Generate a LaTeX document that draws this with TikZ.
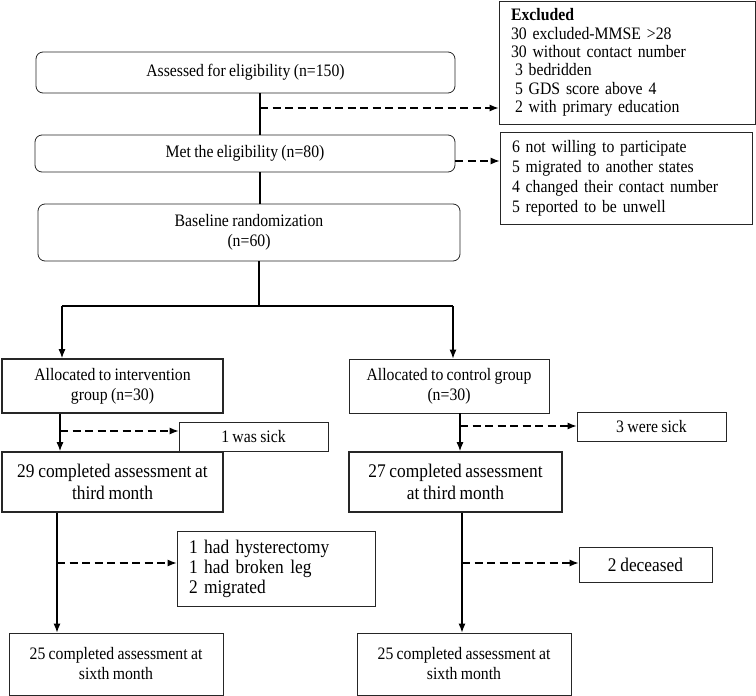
\documentclass[tikz,border=0pt]{standalone}
\usepackage{fontspec}
\setmainfont{Liberation Serif}[FakeStretch=0.9,WordSpace=0.85]
\usetikzlibrary{arrows.meta,positioning}

\begin{document}
\begin{tikzpicture}[x=1pt,y=-1pt,
	box/.style={draw=black!85, line width=0.8pt, align=center, inner sep=0pt, font=\fontsize{17.5}{20}\selectfont},
	rbox/.style={box, rounded corners=7pt},
	heavybox/.style={box, line width=1.7pt},
	bigtext/.style={font=\fontsize{19.3}{22}\selectfont},
	note/.style={box, align=left, inner xsep=12pt},
	flow/.style={line width=1.1pt, -{Latex[length=9pt,width=7pt]}},
	skip/.style={flow, dash pattern=on 8pt off 4.5pt}
	]

	\useasboundingbox (0,0) rectangle (756,696);

	\node[rbox, minimum width=419pt, minimum height=41pt] (assess) at (245.5,72.5) {Assessed for eligibility (n=150)};
	\node[note, text width=232pt, minimum height=123pt, font=\fontsize{17.5}{18.4}\selectfont] (excl) at (627,62.5) {\textbf{Excluded}\\30 excluded-MMSE >28\\30 without contact number\\\hspace*{4pt}3 bedridden\\\hspace*{4pt}5 GDS score above 4\\\hspace*{4pt}2 with primary education};

	\node[rbox, minimum width=420pt, minimum height=37pt] (met) at (245,153.5) {Met the eligibility (n=80)};
	\node[note, text width=228pt, minimum height=92pt] (notwill) at (626,178) {6 not willing to participate\\5 migrated to another states\\4 changed their contact number\\5 reported to be unwell};

	\node[rbox, minimum width=422pt, minimum height=57pt] (base) at (249,232.5) {Baseline randomization\\(n=60)};

	\node[heavybox, minimum width=221pt, minimum height=54pt] (int) at (112.5,386) {Allocated to intervention\\group (n=30)};
	\node[box, minimum width=200pt, minimum height=54pt] (ctl) at (449,386) {Allocated to control group\\(n=30)};

	\node[box, minimum width=149pt, minimum height=29pt] (sick1) at (253.5,436.5) {1 was sick};
	\node[box, minimum width=149pt, minimum height=29pt] (sick3) at (651.5,426.5) {3 were sick};

	\node[heavybox, bigtext, minimum width=221pt, minimum height=60pt] (int3) at (112.5,482) {29 completed assessment at\\third month};
	\node[heavybox, bigtext, minimum width=213pt, minimum height=60pt] (ctl3) at (455.5,482) {27 completed assessment\\at third month};

	\node[note, bigtext, font=\fontsize{19.3}{20}\selectfont, text width=174pt, minimum height=75pt] (lostint) at (276,568.5) {1 had hysterectomy\\1 had broken leg\\2 migrated};
	\node[box, bigtext, minimum width=133pt, minimum height=35pt] (dead) at (645.5,564.5) {2 deceased};

	\node[box, minimum width=214pt, minimum height=62pt] (sixL) at (116,664) {25 completed assessment at\\sixth month};
	\node[box, minimum width=214pt, minimum height=62pt] (sixR) at (464,664) {25 completed assessment at\\sixth month};

	\coordinate (t1) at (260,108);
	\coordinate (t2) at (455,161);
	\coordinate (split) at (259,306);
	\coordinate (bl) at (62,306);
	\coordinate (br) at (453,306);
	\coordinate (colA) at (60,431);
	\coordinate (colB) at (460,426);
	\coordinate (colC) at (57,563);
	\coordinate (colD) at (462,563);

	\draw[line width=1.1pt] (assess.south -| t1) -- (met.north -| t1);
	\draw[line width=1.1pt] (met.south -| t1) -- (base.north -| t1);
	\draw[skip] (t1) -- (t1 -| excl.west);
	\draw[skip] (met.east |- t2) -- (t2 -| notwill.west);

	\draw[line width=1.1pt] (base.south -| split) -- (split);
	\draw[line width=1.1pt] (bl) -- (br);
	\draw[flow] (bl) -- (bl |- int.north);
	\draw[flow] (br) -- (br |- ctl.north);

	\draw[flow] (int.south -| colA) -- (int3.north -| colA);
	\draw[skip] (colA) -- (colA -| sick1.west);
	\draw[flow] (ctl.south -| colB) -- (ctl3.north -| colB);
	\draw[skip] (colB) -- (colB -| sick3.west);

	\draw[flow] (int3.south -| colC) -- (sixL.north -| colC);
	\draw[skip] (colC) -- (colC -| lostint.west);
	\draw[flow] (ctl3.south -| colD) -- (sixR.north -| colD);
	\draw[skip] (colD) -- (colD -| dead.west);

\end{tikzpicture}
\end{document}
